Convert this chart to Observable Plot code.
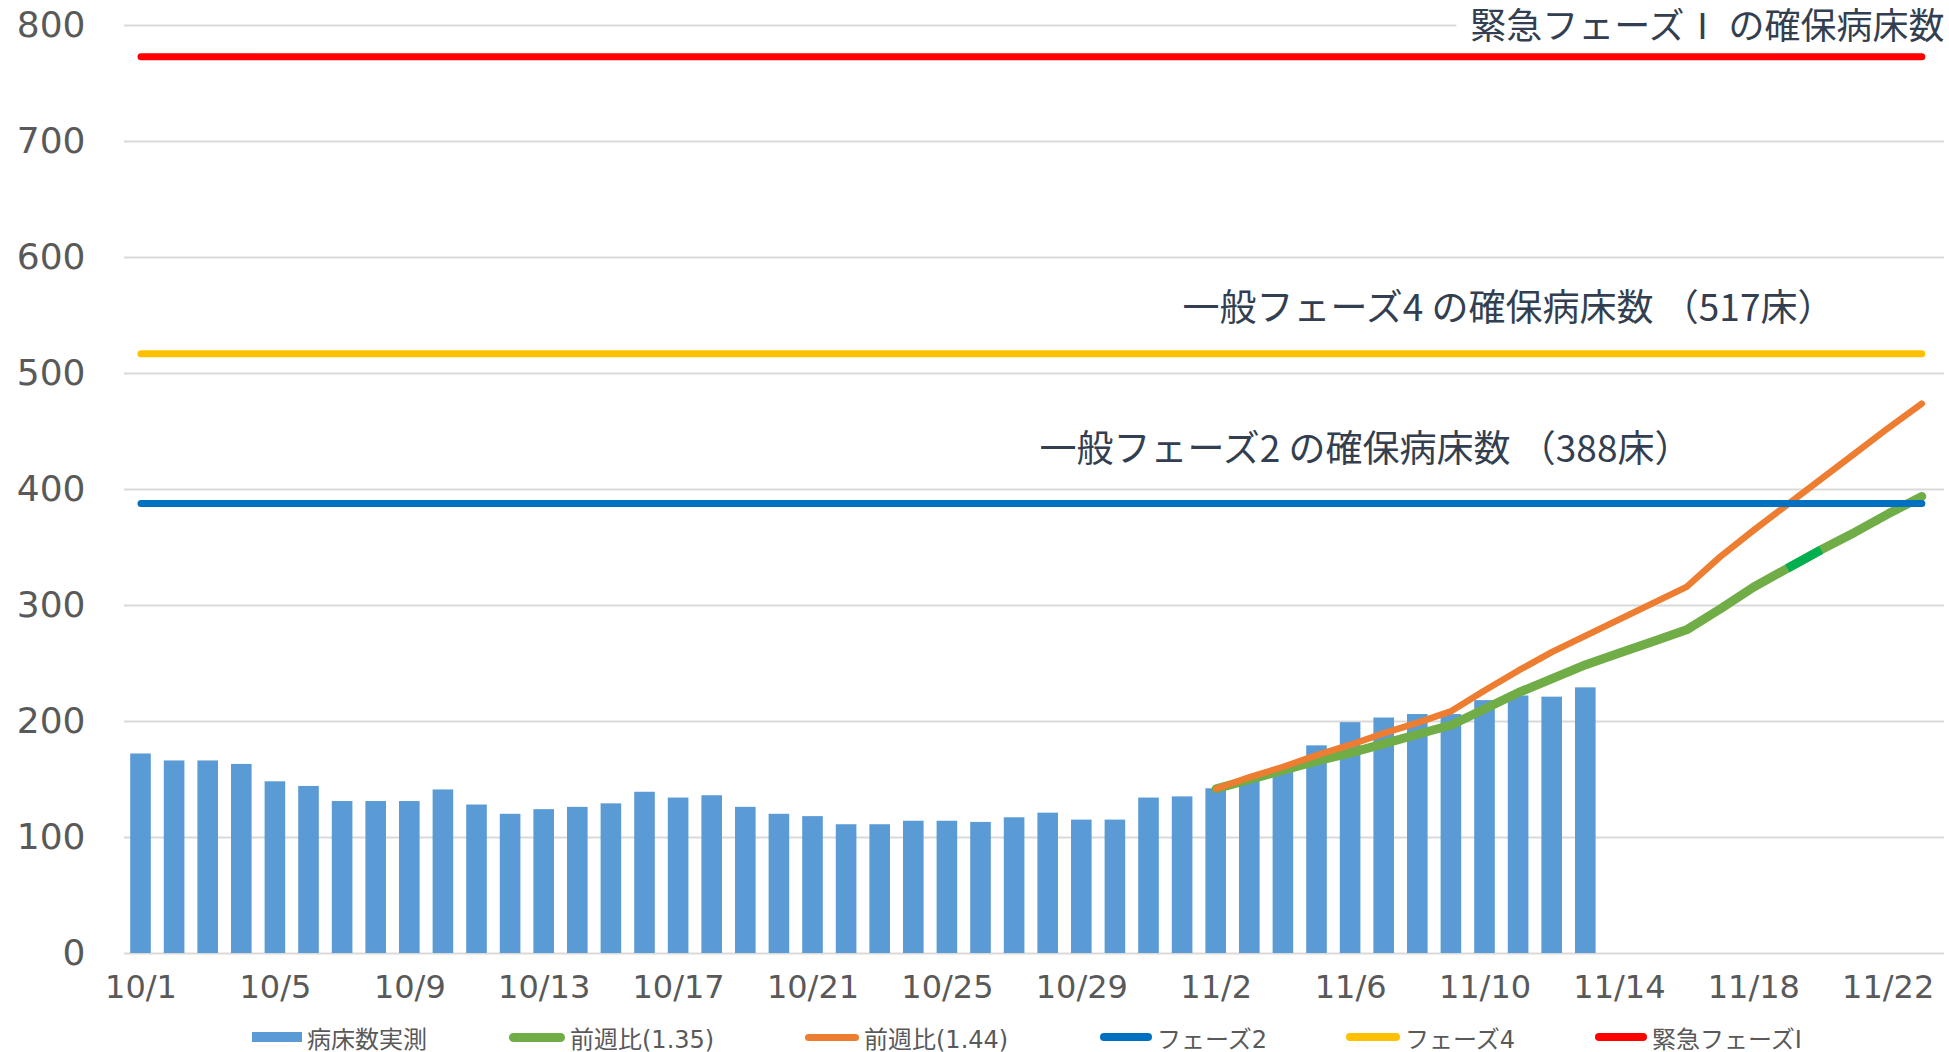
<!DOCTYPE html>
<html><head><meta charset="utf-8">
<script src="https://cdn.jsdelivr.net/npm/d3@7"></script>
<script src="https://cdn.jsdelivr.net/npm/@observablehq/plot@0.6"></script>
<style>
body{margin:0;background:#fff;width:1949px;height:1052px;position:relative;overflow:hidden;}
#chart{position:absolute;left:0;top:0;}
#legend{position:absolute;left:0;top:1017px;width:1949px;height:40px;font-family:"DejaVu Sans","Noto Sans CJK JP";font-size:24px;color:#595959;}
.item{position:absolute;top:0;height:40px;display:flex;align-items:center;white-space:nowrap;}
.sw{display:inline-block;margin-right:5px;}
</style></head><body>
<div id="chart"></div><div id="legend"></div>
<script>
// ---- data ----
const dates = ["10/1","10/2","10/3","10/4","10/5","10/6","10/7","10/8","10/9","10/10",
  "10/11","10/12","10/13","10/14","10/15","10/16","10/17","10/18","10/19","10/20",
  "10/21","10/22","10/23","10/24","10/25","10/26","10/27","10/28","10/29","10/30","10/31",
  "11/1","11/2","11/3","11/4","11/5","11/6","11/7","11/8","11/9","11/10",
  "11/11","11/12","11/13","11/14","11/15","11/16","11/17","11/18","11/19","11/20",
  "11/21","11/22","11/23"];
const actualBeds = [172,166,166,163,148,144,131,131,131,141,
  128,120,124,126,129,139,134,136,126,120,
  118,111,111,114,114,113,117,121,115,115,134,
  135,142,150,159,179,199,203,206,206,218,
  222,221,229];
const projectionDates = ["11/2","11/3","11/4","11/5","11/6","11/7","11/8","11/9","11/10",
  "11/11","11/12","11/13","11/14","11/15","11/16","11/17","11/18","11/19","11/20",
  "11/21","11/22","11/23"];
const ratio135 = [142,150,158,166,173,181,189,197,211,225,237,249,259,269,279,297,316,332,348,363,379,394];
const ratio144 = [142,152,161,171,180,190,199,209,227,244,260,274,288,302,316,342,365,387,409,431,453,474];
const highlightDates135 = ["11/19","11/20"];
const phase2Beds = 388;
const phase4Beds = 517;
const emergencyBeds = 773;
const yTicks = [0,100,200,300,400,500,600,700,800];
const xTickLabels = ["10/1","10/5","10/9","10/13","10/17","10/21","10/25","10/29","11/2","11/6","11/10","11/14","11/18","11/22"];
const seriesNames = ["病床数実測","前週比(1.35)","前週比(1.44)","フェーズ2","フェーズ4","緊急フェーズⅠ"];
const annotationTexts = ["緊急フェーズⅠ の確保病床数","一般フェーズ4 の確保病床数 （517床）","一般フェーズ2 の確保病床数 （388床）"];

// ---- tables ----
const bars = actualBeds.map((v,i)=>({date:dates[i], value:v}));
const green = projectionDates.map((d,i)=>({date:d, value:ratio135[i]}));
const greenHi = green.filter(d=>highlightDates135.includes(d.date));
const orange = projectionDates.map((d,i)=>({date:d, value:ratio144[i]}));
const span = v => [{date:dates[0], value:v},{date:dates[dates.length-1], value:v}];

const colors = {bar:"#5B9BD5", g:"#70AD47", gHi:"#00B050", o:"#ED7D31", p2:"#0070C0", p4:"#FFC000", em:"#FF0000"};
const annoFont = "Noto Sans CJK JP";
const annoFill = "#333f50";
const lineOpts = (stroke, w) => ({x:"date", y:"value", stroke, strokeWidth:w, strokeLinecap:"round", strokeLinejoin:"round"});

const plot = Plot.plot({
  width:1949, height:1010,
  marginLeft:124, marginRight:5, marginTop:25, marginBottom:57,
  style:{fontFamily:"DejaVu Sans", background:"white", overflow:"visible"},
  x:{type:"band", domain:dates, padding:0, range:[123.7, 1938.1]},
  y:{domain:[0,800]},
  marks:[
    Plot.gridY(yTicks, {stroke:"#d9d9d9", strokeOpacity:1, strokeWidth:2}),
    Plot.axisY(yTicks, {tickSize:0, tickPadding:39, fontSize:36, fill:"#595959", label:null}),
    Plot.axisX(xTickLabels, {tickSize:0, tickPadding:22, fontSize:32, fill:"#595959", label:null}),
    Plot.text([annotationTexts[0]], {text:d=>d, frameAnchor:"top-right", textAnchor:"end", lineAnchor:"middle", dx:0, dy:1.5, fontSize:36, fontFamily:annoFont, fill:annoFill, stroke:"white", strokeWidth:34}),
    Plot.text([annotationTexts[1]], {text:d=>d, frameAnchor:"top-right", textAnchor:"middle", lineAnchor:"middle", dx:-436, dy:284, fontSize:37, fontFamily:annoFont, fill:annoFill}),
    Plot.text([annotationTexts[2]], {text:d=>d, frameAnchor:"top-right", textAnchor:"middle", lineAnchor:"middle", dx:-579, dy:425, fontSize:37, fontFamily:annoFont, fill:annoFill}),
    Plot.barY(bars, {x:"date", y:"value", fill:colors.bar, insetLeft:6.5, insetRight:6.5}),
    Plot.line(green, lineOpts(colors.g, 9)),
    Plot.line(greenHi, {x:"date", y:"value", stroke:colors.gHi, strokeWidth:9, strokeLinecap:"butt"}),
    Plot.line(orange, lineOpts(colors.o, 6.5)),
    Plot.line(span(phase2Beds), lineOpts(colors.p2, 7)),
    Plot.line(span(phase4Beds), lineOpts(colors.p4, 7)),
    Plot.line(span(emergencyBeds), lineOpts(colors.em, 7))
  ]
});
document.getElementById("chart").appendChild(plot);

// ---- legend ----
const legendLeft = [252,509,805,1100,1346,1595];
const legendSw = [
  {c:colors.bar, w:50, h:10, r:0},
  {c:colors.g, w:56, h:9, r:5},
  {c:colors.o, w:54, h:7, r:4},
  {c:colors.p2, w:52, h:8, r:4},
  {c:colors.p4, w:54, h:8, r:4},
  {c:colors.em, w:52, h:8, r:4}
];
const lg = document.getElementById("legend");
seriesNames.forEach((name,i)=>{
  const it = document.createElement("div");
  it.className = "item";
  it.style.left = legendLeft[i] + "px";
  const sw = document.createElement("span");
  sw.className = "sw";
  const s = legendSw[i];
  sw.style.width = s.w + "px"; sw.style.height = s.h + "px";
  sw.style.background = s.c; sw.style.borderRadius = s.r + "px";
  const t = document.createElement("span");
  t.textContent = name;
  it.appendChild(sw); it.appendChild(t);
  lg.appendChild(it);
});
</script>
</body></html>
